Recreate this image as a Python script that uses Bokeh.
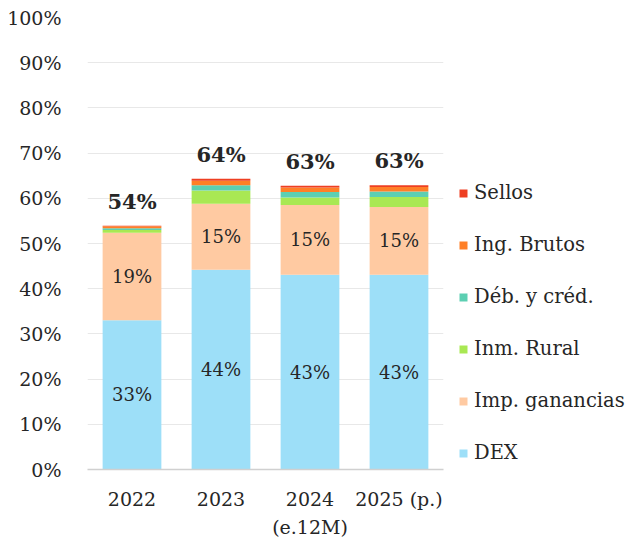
from bokeh.plotting import figure
from bokeh.models import (ColumnDataSource, Legend, LegendItem, PrintfTickFormatter, Range1d,
                          CategoricalAxis, CustomJSTickFormatter)
from bokeh.core.properties import value
from bokeh.embed import file_html
from bokeh.resources import INLINE

cats = ["2022", "2023", "2024", "2025 (p.)"]
cat_line2 = ["", "", "(e.12M)", ""]
dex = [33.0, 44.2, 43.1, 43.1]
imp = [19.4, 14.6, 15.4, 15.0]
inm = [0.6, 2.9, 1.7, 2.2]
deb = [0.4, 1.2, 1.2, 1.2]
ing = [0.4, 1.0, 1.0, 1.0]
sellos = [0.1, 0.4, 0.4, 0.4]

series_keys = ["dex", "imp", "inm", "deb", "ing", "sellos"]
series_names = ["DEX", "Imp. ganancias", "Inm. Rural", "Déb. y créd.", "Ing. Brutos", "Sellos"]
colors = ["#9DDFF8", "#FFCAA2", "#A9E853", "#5CCFB2", "#FF7F27", "#EE3F22"]

FONT = "DejaVu Serif"
TXT = "#262626"

data = dict(cat=cats, dex=dex, imp=imp, inm=inm, deb=deb, ing=ing, sellos=sellos)
totals = [sum(v) for v in zip(dex, imp, inm, deb, ing, sellos)]
src = ColumnDataSource(data)

p = figure(x_range=cats, y_range=Range1d(0, 100), frame_width=356, frame_height=452,
           output_backend="svg", toolbar_location=None,
           min_border_left=87, min_border_top=17, min_border_bottom=0, min_border_right=0)

rs = p.vbar_stack(series_keys, x="cat", width=0.66, color=colors, line_color=None, source=src)

# segment labels
lab = ColumnDataSource(dict(
    x=cats + cats,
    y=[d / 2 for d in dex] + [d + i / 2 for d, i in zip(dex, imp)],
    t=[f"{round(d)}%" for d in dex] + [f"{round(i)}%" for i in imp],
))
p.text(x="x", y="y", text="t", source=lab, text_align="center", text_baseline="middle",
       text_font=value(FONT), text_font_size="18px", text_color=TXT)

tot = ColumnDataSource(dict(x=cats, y=totals, t=[f"{round(t)}%" for t in totals]))
p.text(x="x", y="y", text="t", source=tot, text_align="center", text_baseline="bottom",
       y_offset=-12, text_font=value(FONT), text_font_size="21px", text_font_style="bold",
       text_color=TXT)

items = [LegendItem(label=n, renderers=[r]) for n, r in zip(series_names, rs)][::-1]
legend = Legend(items=items, location=(15, 5), orientation="vertical",
                glyph_width=10, glyph_height=10, label_height=21, spacing=29,
                label_standoff=6, padding=0, margin=0, border_line_color=None,
                background_fill_alpha=0,
                label_text_font=FONT, label_text_font_size="19.5px", label_text_color=TXT)
p.add_layout(legend, "right")

p.outline_line_color = None
p.xgrid.grid_line_color = None
p.ygrid.grid_line_color = "#E8E8E8"
p.ygrid.grid_line_width = 1
p.yaxis.ticker = list(range(0, 101, 10))
p.yaxis.formatter = PrintfTickFormatter(format="%d%%")
p.yaxis.axis_line_color = None
p.yaxis.major_tick_line_color = None
p.yaxis.minor_tick_line_color = None
p.yaxis.major_label_standoff = 20
p.xaxis.axis_line_color = "#D0D0D0"
p.xaxis.axis_line_width = 1.5
p.xaxis.major_tick_line_color = None
p.xaxis.minor_tick_line_color = None
p.xaxis.major_label_standoff = 12

ax2 = CategoricalAxis(axis_line_color=None, major_tick_line_color=None,
                      minor_tick_line_color=None, major_label_standoff=-3,
                      formatter=CustomJSTickFormatter(
                          args=dict(cats=cats, l2=cat_line2),
                          code="const i = cats.indexOf(tick); return (i >= 0 && l2[i]) ? l2[i] : ' ';"))
p.add_layout(ax2, "below")

for ax in (p.xaxis + p.yaxis):
    ax.major_label_text_font = FONT
    ax.major_label_text_font_size = "19px"
    ax.major_label_text_color = TXT

open("out.html", "w").write(file_html(p, INLINE))
